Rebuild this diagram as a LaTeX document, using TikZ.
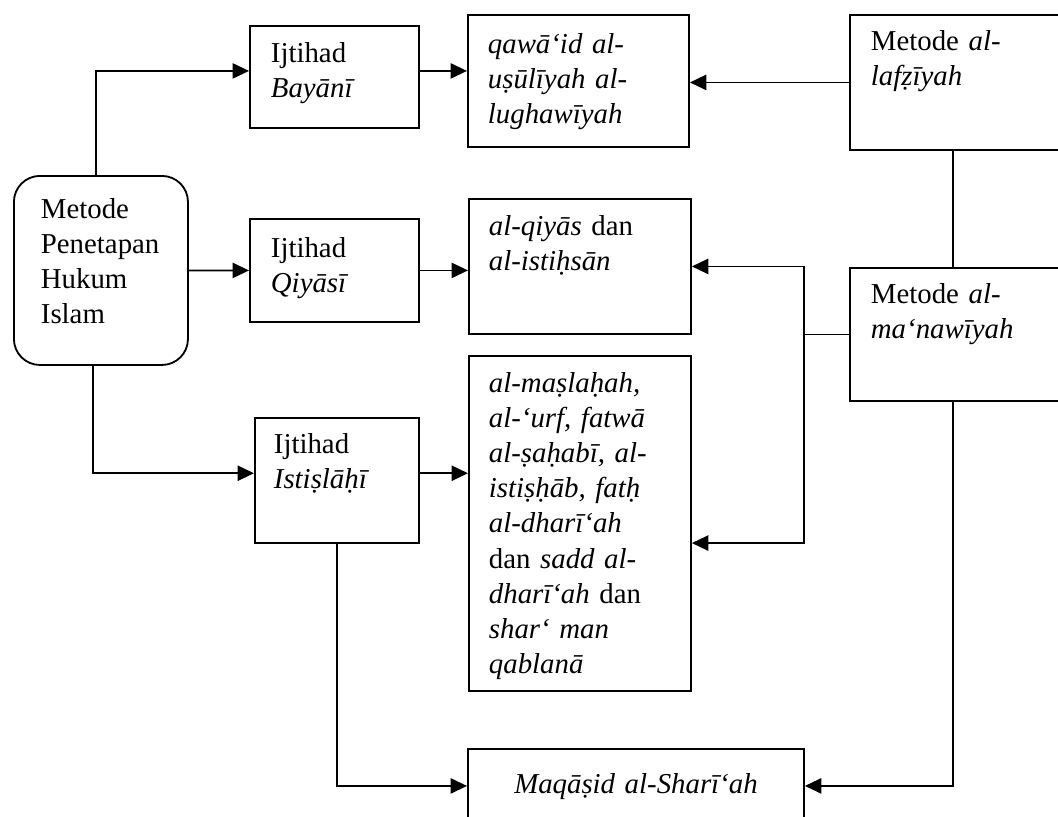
\documentclass[tikz,border=0pt]{standalone}
\usepackage{fontspec}
\setmainfont{Liberation Serif}
\usetikzlibrary{arrows.meta}

\tikzset{
  box/.style={draw, line width=1.3pt, anchor=north west, align=left, inner ysep=0pt,
    font=\fontsize{20.5}{24.9}\selectfont},
  arr/.style={-{Triangle[length=0.41cm,width=0.38cm]}, line width=1.3pt},
}

\begin{document}
\begin{tikzpicture}[x=0.025cm, y=-0.025cm, line width=1.3pt]
    \useasboundingbox (0,0) rectangle (1058,816);
    \clip (0,0) rectangle (1058,816);
    \node[box, rounded corners=0.65cm, inner xsep=0.675cm, text width=3cm, text height=1.075cm, text depth=3.65cm]
        (mph) at (13,175) {Metode\\Penetapan\\Hukum\\Islam};
    \node[box, inner xsep=0.525cm, text width=3.175cm, text height=0.925cm, text depth=1.625cm]
        (bayani) at (249,25) {Ijtihad\\\textit{Bayānī}};
    \node[box, inner xsep=0.525cm, text width=3.175cm, text height=0.975cm, text depth=1.6cm]
        (qiyasi) at (249,218) {Ijtihad\\\textit{Qiyāsī}};
    \node[box, inner xsep=0.475cm, text width=3.15cm, text height=0.9cm, text depth=2.225cm]
        (istislahi) at (254,417) {Ijtihad\\\textit{Istiṣlāḥī}};
    \node[box, inner xsep=0.5cm, text width=4.525cm, text height=0.975cm, text depth=2.325cm]
        (qawaid) at (467,14) {\textit{qawā‘id al-}\\\textit{uṣūlīyah al-}\\\textit{lughawīyah}};
    \node[box, inner xsep=0.5cm, text width=4.55cm, text height=0.925cm, text depth=2.45cm]
        (qiyas) at (468,198) {\textit{al-qiyās} dan\\\textit{al-istiḥsān}};
    \node[box, inner xsep=0.5cm, text width=4.55cm, text height=0.925cm, text depth=7.45cm]
        (maslahah) at (468,355) {\textit{al-maṣlaḥah,}\\\textit{al-‘urf, fatwā}\\\textit{al-ṣaḥabī, al-}\\
        \textit{istiṣḥāb, fatḥ}\\\textit{al-dharī‘ah}\\dan \textit{sadd al-}\\\textit{dharī‘ah} dan\\
        \textit{shar‘ man}\\\textit{qablanā}};
    \node[box, align=center, inner xsep=0.5cm, text width=7.4cm, text height=1.125cm, text depth=0.725cm]
        (maqasid) at (467,748) {\textit{Maqāṣid al-Sharī‘ah}};
    \node[box, inner xsep=0.525cm, text width=5cm, text height=0.9cm, text depth=2.475cm]
        (lafziyah) at (849,14) {Metode \textit{al-}\\\textit{lafẓīyah}};
    \node[box, inner xsep=0.525cm, text width=5cm, text height=0.9cm, text depth=2.425cm]
        (manawiyah) at (849,267) {Metode \textit{al-}\\\textit{ma‘nawīyah}};
    \draw[arr] ([xshift=-0.125cm]mph.north) |- ([yshift=0.15cm]bayani.west);
    \draw[arr] (mph.east) -- (qiyasi.west);
    \draw[arr] ([xshift=-0.2cm]mph.south) |- ([yshift=0.18cm]istislahi.west);
    \draw[arr] ([yshift=0.15cm]bayani.east) -- ([yshift=0.15cm]bayani.east -| qawaid.west);
    \draw[arr] (qiyasi.east) -- (qiyasi.east -| qiyas.west);
    \draw[arr] ([yshift=0.18cm]istislahi.east) -- ([yshift=0.18cm]istislahi.east -| maslahah.west);
    \draw[arr] (istislahi.south) |- (maqasid.west);
    \draw[arr] (lafziyah.west) -- (lafziyah.west -| qawaid.east);
    \draw ([xshift=2.6cm]lafziyah.south west) -- ([xshift=2.6cm]manawiyah.north west);
    \coordinate (junc) at ([xshift=-1.125cm]manawiyah.west);
    \draw (manawiyah.west) -- (junc);
    \draw[arr] (junc) |- (qiyas.east);
    \draw[arr] (junc) |- ([yshift=-0.49cm]maslahah.east);
    \draw[arr] ([xshift=2.6cm]manawiyah.south west) |- (maqasid.east);
\end{tikzpicture}
\end{document}
